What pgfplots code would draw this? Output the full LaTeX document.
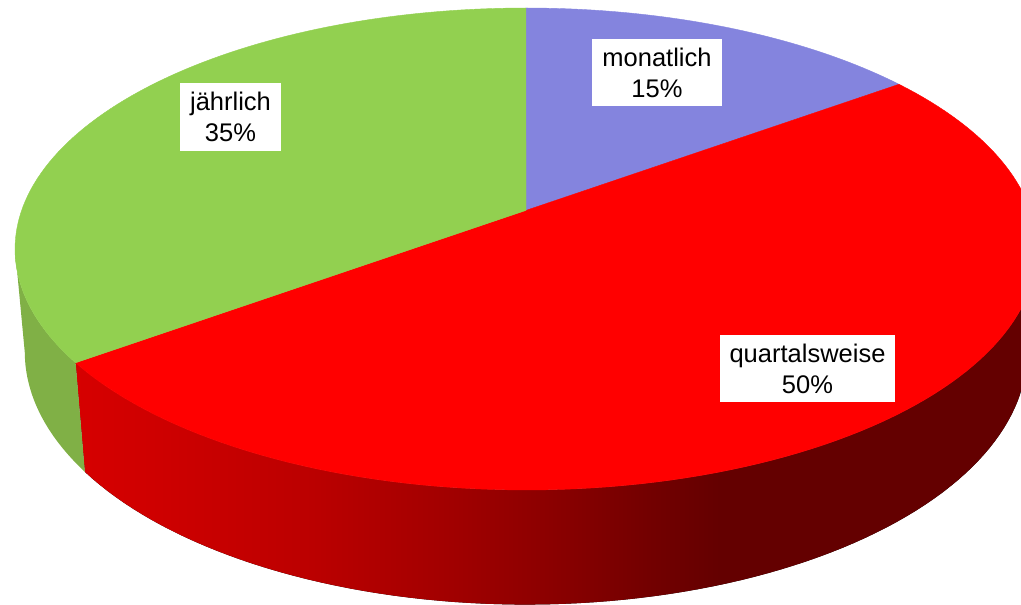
\documentclass[border=0pt]{standalone}
\usepackage{fontspec}
\setmainfont{Liberation Sans}
\usepackage{pgfplots}
\usepackage{pgfplotstable}
\pgfplotsset{compat=1.18}
\usepgfplotslibrary{fillbetween}

\definecolor{cMon}{HTML}{8484DE}
\definecolor{cQua}{HTML}{FF0000}
\definecolor{cJah}{HTML}{92D050}
\definecolor{cJahSide}{HTML}{80B046}
\definecolor{q1}{HTML}{D60000}
\definecolor{q2}{HTML}{CF0000}
\definecolor{q3}{HTML}{BB0000}
\definecolor{q4}{HTML}{A20000}
\definecolor{q5}{HTML}{8C0000}
\definecolor{q6}{HTML}{730000}
\definecolor{q7}{HTML}{640000}
\pgfdeclarehorizontalshading{quaside}{100bp}{color(0bp)=(q1); color(25bp)=(q1);
  color(28.9bp)=(q2); color(37.3bp)=(q3); color(44.3bp)=(q4); color(49.5bp)=(q5);
  color(54.8bp)=(q6); color(58.5bp)=(q7); color(100bp)=(q7)}

% shares in percent: monatlich, quartalsweise, jaehrlich
\pgfplotstableread{
share
15
50
35
}\piedata

\begin{document}
\begin{tikzpicture}
\pgfplotstablegetelem{0}{share}\of\piedata \let\sMon\pgfplotsretval
\pgfplotstablegetelem{1}{share}\of\piedata \let\sQua\pgfplotsretval
\pgfmathsetmacro\aA{3.6*\sMon}
\pgfmathsetmacro\aB{\aA+3.6*\sQua}
\pgfmathsetmacro\phR{acos(-0.16)}
\pgfmathsetmacro\phL{360-\phR}
\pgfmathsetmacro\rs{max(\aA,\phR)}
\pgfmathsetmacro\re{min(\aB,\phL)}
\begin{axis}[
    scale only axis, width=1021pt, height=605pt,
    xmin=0, xmax=1021, ymin=0, ymax=605,
    hide axis,
    declare function={
      dn(\p,\t)=1+0.16*cos(\p)+\t;
      px(\p,\t)=526+504.4*sin(\p)/dn(\p,\t);
      py(\p,\t,\d)=356+(241*(cos(\p)+0.16)+\d)/dn(\p,\t);
    },
]
\coordinate (ll) at (axis cs:0,0);
\coordinate (ur) at (axis cs:1021,605);

% side walls
\addplot[draw=none, name path=qt, domain=\rs:\re, samples=90] ({px(x,0)},{py(x,0,0)});
\addplot[draw=none, name path=qb, domain=\rs:\re, samples=90] ({px(x,0.019)},{py(x,0.019,-103)});
\addplot[shading=quaside, draw=none] fill between[of=qt and qb];

\addplot[draw=none, name path=jt, domain=\aB:\phL, samples=30] ({px(x,0)},{py(x,0,0)});
\addplot[draw=none, name path=jb, domain=\aB:\phL, samples=30] ({px(x,0.019)},{py(x,0.019,-103)});
\addplot[fill=cJahSide, draw=none] fill between[of=jt and jb];

% top faces
\addplot[fill=cMon, draw=cMon, line width=0.4pt, domain=0:\aA, samples=60]
  ({px(x,0)},{py(x,0,0)}) -- (axis cs:526,394.6) -- cycle;
\addplot[fill=cQua, draw=cQua, line width=0.4pt, domain=\aA:\aB, samples=120]
  ({px(x,0)},{py(x,0,0)}) -- (axis cs:526,394.6) -- cycle;
\addplot[fill=cJah, draw=cJah, line width=0.4pt, domain=\aB:360, samples=90]
  ({px(x,0)},{py(x,0,0)}) -- (axis cs:526,394.6) -- cycle;

% labels
\tikzset{lbl/.style={fill=white, align=center, inner xsep=10pt, inner ysep=9pt,
  font=\fontsize{25.5}{31}\selectfont}}
\node[lbl] at (axis cs:657,532.5) {monatlich\\15\%};
\node[lbl] at (axis cs:230.5,488) {jährlich\\35\%};
\node[lbl] at (axis cs:807.5,236.5) {quartalsweise\\50\%};
\end{axis}
\pgfresetboundingbox
\useasboundingbox (ll) rectangle (ur);
\end{tikzpicture}
\end{document}
